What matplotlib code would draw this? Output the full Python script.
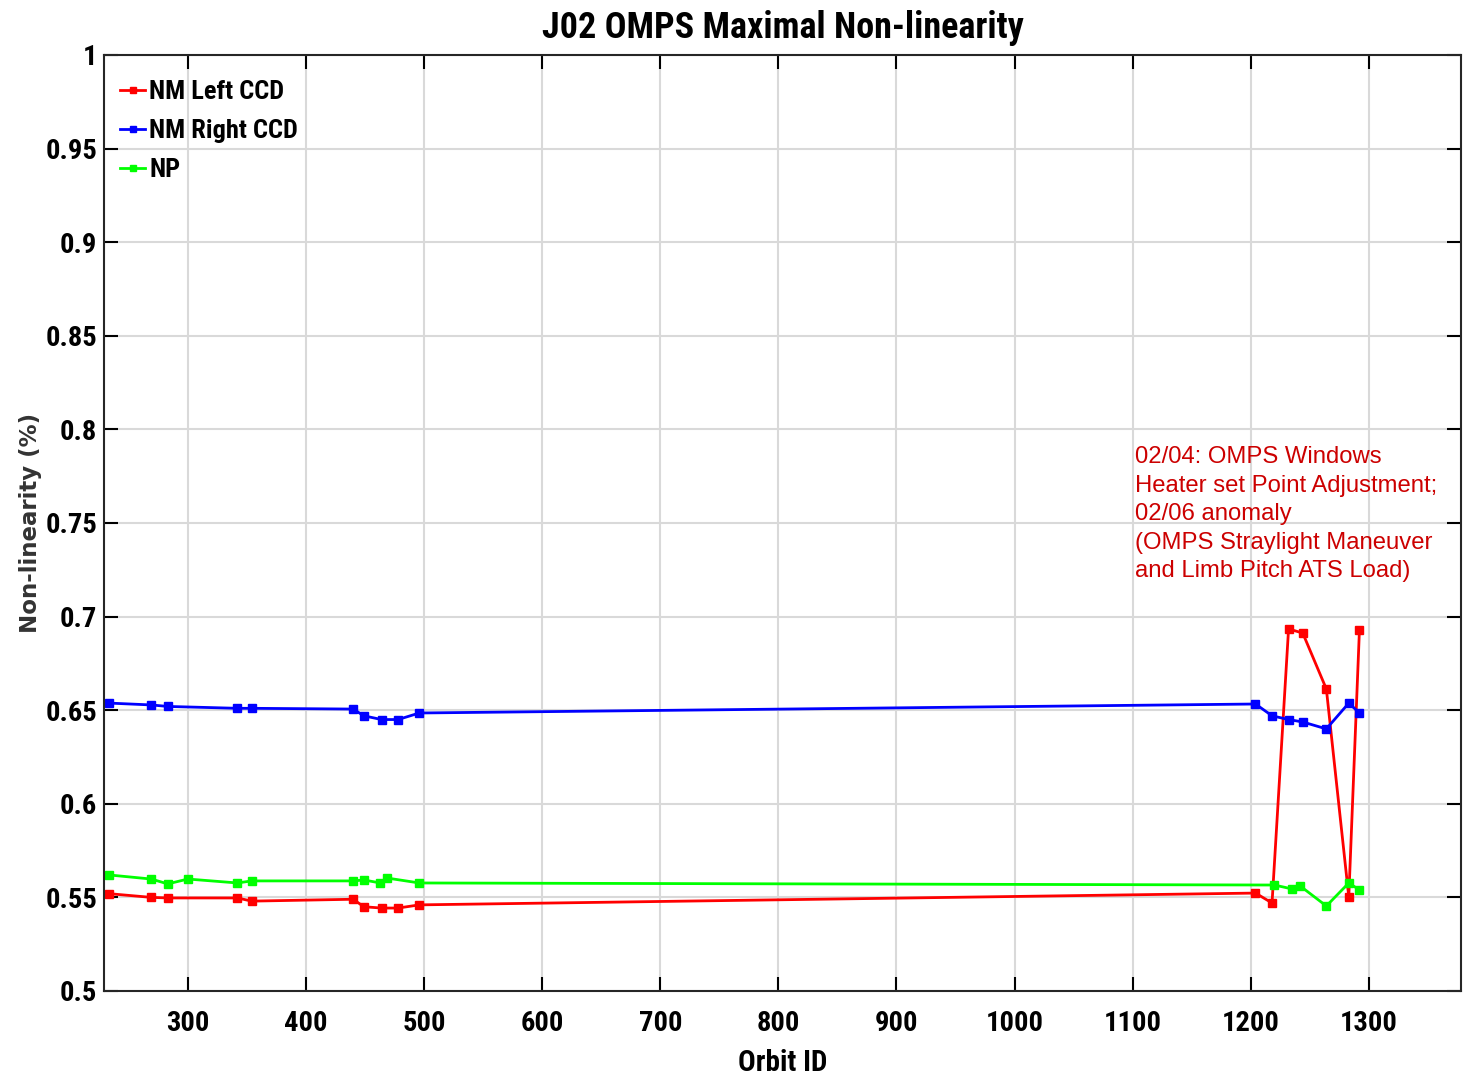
import matplotlib.pyplot as plt

# dados
orbita_left = [233, 269, 283, 342, 354, 440, 449, 464, 478, 496, 1204, 1218, 1232, 1244, 1264, 1283, 1292]
nm_left = [0.552, 0.550, 0.5497, 0.5497, 0.548, 0.549, 0.545, 0.5443, 0.5443, 0.546,
           0.5523, 0.547, 0.6934, 0.6912, 0.6613, 0.5502, 0.6928]

orbita_right = [233, 269, 283, 342, 354, 440, 449, 464, 478, 496, 1204, 1218, 1232, 1244, 1264, 1283, 1292]
nm_right = [0.6538, 0.6528, 0.652, 0.651, 0.651, 0.6506, 0.647, 0.645, 0.645, 0.6485,
            0.6533, 0.647, 0.645, 0.6437, 0.640, 0.6538, 0.6485]

orbita_np = [233, 269, 283, 300, 342, 354, 440, 449, 463, 469, 496, 1220, 1235, 1242, 1264, 1283, 1292]
np_vals = [0.562, 0.5598, 0.5572, 0.5598, 0.5577, 0.5588, 0.5588, 0.5593, 0.5577, 0.5603,
           0.5577, 0.5566, 0.5545, 0.556, 0.5454, 0.5577, 0.554]

xticks = list(range(300, 1301, 100))
yticks = [0.5, 0.55, 0.6, 0.65, 0.7, 0.75, 0.8, 0.85, 0.9, 0.95, 1]
ytick_labels = ['0.5', '0.55', '0.6', '0.65', '0.7', '0.75', '0.8', '0.85', '0.9', '0.95', '1']

nota = ('02/04: OMPS Windows\nHeater set Point Adjustment;\n02/06 anomaly\n'
        '(OMPS Straylight Maneuver\nand Limb Pitch ATS Load)')

fonte_narrow = ['Liberation Sans Narrow', 'Roboto Condensed', 'Roboto', 'DejaVu Sans']

fig = plt.figure(figsize=(14.71, 10.74), dpi=100)
ax = fig.add_axes([0.0707, 0.0773, 0.9225, 0.8715])

ax.plot(orbita_left, nm_left, '-s', color='#ff0000', lw=2, ms=6, label='NM Left CCD')
ax.plot(orbita_right, nm_right, '-s', color='#0000ff', lw=2, ms=6, label='NM Right CCD')
ax.plot(orbita_np, np_vals, '-s', color='#00ff00', lw=2, ms=6, label='NP')

ax.set_xlim(229, 1378)
ax.set_ylim(0.5, 1)
ax.set_xticks(xticks)
ax.set_yticks(yticks)
ax.set_yticklabels(ytick_labels)
ax.grid(True, color='#d9d9d9', lw=1.5)
ax.set_axisbelow(True)
ax.tick_params(direction='in', length=10, width=1.5, top=True, right=True)
ax.tick_params(axis='x', pad=14)
ax.tick_params(axis='y', pad=5)
for lab in ax.get_xticklabels() + ax.get_yticklabels():
    lab.set_family(fonte_narrow)
    lab.set_fontweight('bold')
    lab.set_fontsize(20.5)
for s in ax.spines.values():
    s.set_linewidth(1.5)
    s.set_color('#262626')

ax.set_title('J02 OMPS Maximal Non-linearity', family=fonte_narrow, fontweight='bold',
             fontsize=26, pad=12)
ax.set_xlabel('Orbit ID', family=fonte_narrow, fontweight='bold', fontsize=21, labelpad=8)
ax.set_ylabel('Non-linearity (%)', fontweight='bold', fontsize=16.5, color='#333333', labelpad=2,
              family=['DejaVu Sans'])

ax.text(1102, 0.791, nota, color='#cc0000', fontsize=17.2, va='top', ha='left',
        family=['Liberation Sans', 'DejaVu Sans'], linespacing=1.38)

leg = ax.legend(loc='upper left', bbox_to_anchor=(0.0118, 0.973), frameon=False,
                borderaxespad=0, borderpad=0, handlelength=0.95, handletextpad=0.15,
                labelspacing=0.56, markerscale=0.7,
                prop={'family': fonte_narrow, 'weight': 'bold', 'size': 19})

fig.savefig('out.png', dpi=100)
